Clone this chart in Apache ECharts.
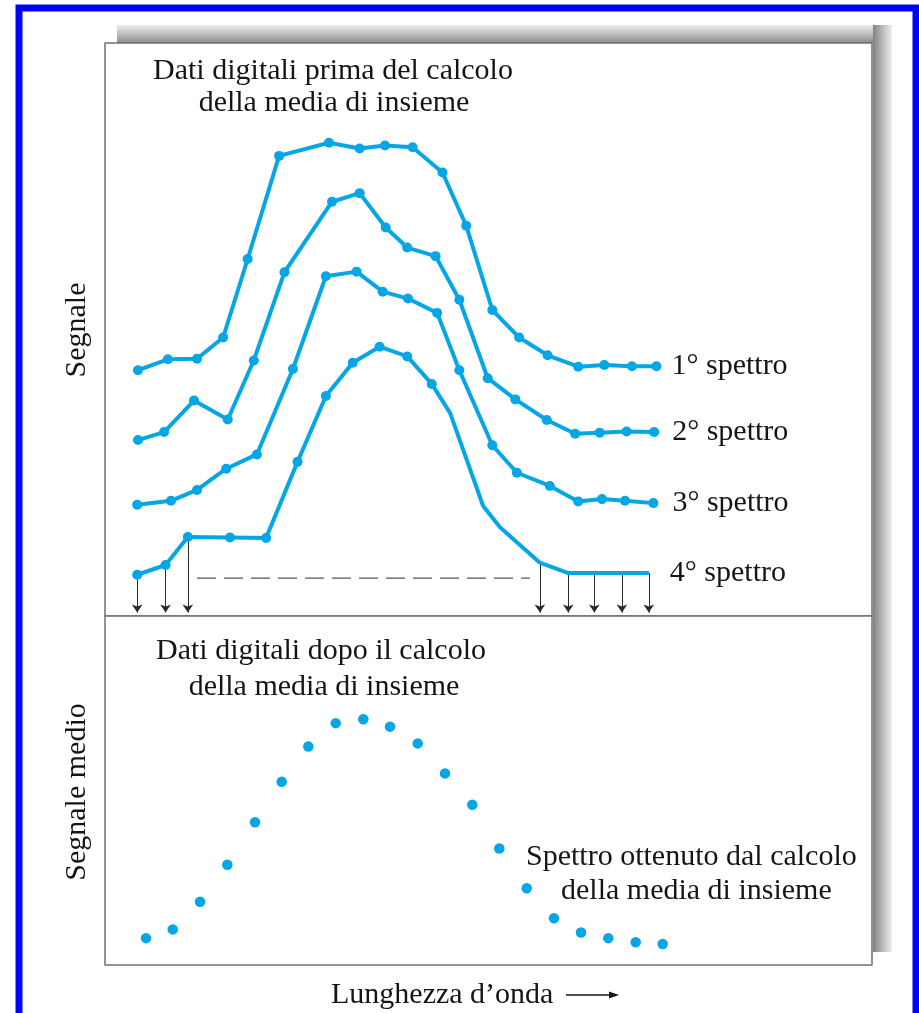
<!DOCTYPE html>
<html>
<head>
<meta charset="utf-8">
<script src="https://cdn.jsdelivr.net/npm/echarts@6/dist/echarts.min.js"></script>
<style>
html,body{margin:0;padding:0;background:#fff;}
#chart{width:919px;height:1013px;}
</style>
</head>
<body>
<div id="chart"></div>
<script>
// ---- data (wavelength in arbitrary units 0-100, signal in arbitrary units 0-100) ----
var spectrumNames = ['1\u00b0 spettro', '2\u00b0 spettro', '3\u00b0 spettro', '4\u00b0 spettro'];

var s1X = [4.3, 8.2, 12.0, 15.4, 18.6, 22.7, 29.2, 33.2, 36.5, 40.1, 44.0, 47.1, 50.5, 54.0, 57.7, 61.7, 65.1, 68.7, 71.9];
var s1Y = [42.9, 44.8, 44.9, 48.6, 62.3, 80.3, 82.6, 81.6, 82.1, 81.8, 77.4, 68.1, 53.4, 48.6, 45.5, 43.5, 43.8, 43.6, 43.6];

var s2X = [4.3, 7.7, 11.6, 16.0, 19.4, 23.4, 29.6, 33.2, 36.6, 39.4, 43.1, 46.2, 49.9, 53.5, 57.6, 61.3, 64.5, 68.0, 71.6];
var s2Y = [30.7, 32.1, 37.6, 34.3, 44.6, 60.0, 72.3, 73.8, 67.8, 64.3, 62.8, 55.2, 41.5, 37.8, 34.2, 31.8, 32.0, 32.2, 32.1];

var s3X = [4.2, 8.6, 12.0, 15.8, 19.8, 24.5, 28.8, 32.8, 36.2, 39.5, 43.3, 46.2, 50.5, 53.7, 58.0, 61.7, 64.8, 67.8, 71.5];
var s3Y = [19.4, 20.1, 22.0, 25.7, 28.2, 43.1, 59.3, 60.1, 56.6, 55.4, 52.9, 42.9, 29.8, 25.0, 22.7, 20.0, 20.4, 20.1, 19.7];

var s4X = [4.2, 7.9, 10.8, 16.3, 21.0, 25.1, 28.8, 32.3, 35.8, 39.4, 42.6, 45.0, 49.3, 51.5, 56.7, 60.4, 63.8, 67.4, 70.9];
var s4Y = [7.2, 8.9, 13.8, 13.7, 13.6, 26.9, 38.4, 44.2, 47.0, 45.3, 40.5, 35.4, 19.2, 15.5, 9.3, 7.5, 7.5, 7.5, 7.5];
var s4MarkedCount = 11;

// sampling arrows (indices of spectrum 4 points), arrow tip level
var arrowIdx = [0, 1, 2, 14, 15, 16, 17, 18];
var arrowEndY = 0.6;

// dashed "..." line in spectrum 4
var dashX = [12.0, 55.4];
var dashY = 6.6;

// ensemble average spectrum
var avgX = [5.35, 8.83, 12.39, 15.95, 19.56, 23.04, 26.51, 30.08, 33.68, 37.16, 40.77, 44.33, 47.89, 51.41, 54.98, 58.54, 62.06, 65.62, 69.19, 72.71];
var avgY = [7.7, 10.2, 18.1, 28.7, 40.9, 52.5, 62.6, 69.3, 70.4, 68.3, 63.5, 54.9, 45.9, 33.4, 22.0, 13.4, 9.3, 7.7, 6.5, 6.0];

// ---- chart ----
var BLUE = '#04a6e6';
var FONT = "'Liberation Serif', 'DejaVu Serif', serif";
var TXT = '#151515';
var labelGap = [15, 18, 19, 21];

function pairs(xs, ys) { return xs.map(function (x, i) { return [x, ys[i]]; }); }

var chart = echarts.init(document.getElementById('chart'), null, {renderer: 'canvas'});

function lineSeries(k, xs, ys, markedCount) {
  var name = spectrumNames[k];
  var data = xs.map(function (x, i) {
    var item = {value: [x, ys[i]]};
    if (markedCount !== undefined && i >= markedCount) { item.symbol = 'none'; }
    return item;
  });
  return {
    type: 'line', name: name, xAxisIndex: 0, yAxisIndex: 0,
    data: data, symbol: 'circle', symbolSize: 10, showSymbol: true,
    lineStyle: {color: BLUE, width: 4}, itemStyle: {color: BLUE, opacity: 1},
    z: 5, silent: true,
    endLabel: {show: true, formatter: name, fontFamily: FONT, fontSize: 30, color: TXT, distance: labelGap[k]}
  };
}

var option = {
  animation: false,
  backgroundColor: '#fff',
  grid: [
    {left: 105, top: 43, width: 767, height: 573, show: true, borderColor: '#707070', borderWidth: 1.5, backgroundColor: '#fff'},
    {left: 105, top: 616, width: 767, height: 349, show: true, borderColor: '#707070', borderWidth: 1.5, backgroundColor: '#fff'}
  ],
  xAxis: [
    {type: 'value', gridIndex: 0, min: 0, max: 100, show: false},
    {type: 'value', gridIndex: 1, min: 0, max: 100, show: false}
  ],
  yAxis: [
    {type: 'value', gridIndex: 0, min: 0, max: 100, show: false},
    {type: 'value', gridIndex: 1, min: 0, max: 100, show: false}
  ],
  series: [
    {
      type: 'lines', coordinateSystem: 'cartesian2d', xAxisIndex: 0, yAxisIndex: 0,
      symbol: ['none', 'arrow'], symbolSize: 8, z: 2, silent: true,
      lineStyle: {color: '#2a2a2a', width: 1, opacity: 1},
      data: arrowIdx.map(function (i) { return {coords: [[s4X[i], s4Y[i]], [s4X[i], arrowEndY]]}; })
    },
    {
      type: 'line', xAxisIndex: 0, yAxisIndex: 0, symbol: 'none', z: 2, silent: true,
      lineStyle: {color: '#555', width: 1.3, type: [19, 8]},
      data: [[dashX[0], dashY], [dashX[1], dashY]]
    },
    lineSeries(0, s1X, s1Y),
    lineSeries(1, s2X, s2Y),
    lineSeries(2, s3X, s3Y),
    lineSeries(3, s4X, s4Y, s4MarkedCount),
    {
      type: 'scatter', xAxisIndex: 1, yAxisIndex: 1, symbol: 'circle', symbolSize: 10.5,
      itemStyle: {color: BLUE, opacity: 1}, data: pairs(avgX, avgY), silent: true
    }
  ],
  graphic: [
    // outer blue frame
    {type: 'rect', z: 100, silent: true, shape: {x: 19, y: 8, width: 897, height: 1040},
     style: {fill: 'none', stroke: '#0000ff', lineWidth: 7}},
    // panel drop shadow (top and right)
    {type: 'rect', z: -10, silent: true, shape: {x: 117, y: 25, width: 756, height: 18},
     style: {fill: {type: 'linear', x: 0, y: 0, x2: 0, y2: 1, colorStops: [
       {offset: 0, color: 'rgba(238,238,238,1)'}, {offset: 1, color: 'rgba(140,140,140,1)'}]}}},
    {type: 'rect', z: -10, silent: true, shape: {x: 873, y: 25, width: 19, height: 927},
     style: {fill: {type: 'linear', x: 0, y: 0, x2: 1, y2: 0, colorStops: [
       {offset: 0, color: 'rgba(130,130,130,1)'}, {offset: 1, color: 'rgba(240,240,240,1)'}]}}},
    // titles
    {type: 'text', z: 50, silent: true, style: {text: 'Dati digitali prima del calcolo', x: 333, y: 71, font: '30px ' + FONT, fill: TXT, textAlign: 'center', textVerticalAlign: 'middle'}},
    {type: 'text', z: 50, silent: true, style: {text: 'della media di insieme', x: 334, y: 103, font: '30px ' + FONT, fill: TXT, textAlign: 'center', textVerticalAlign: 'middle'}},
    {type: 'text', z: 50, silent: true, style: {text: 'Dati digitali dopo il calcolo', x: 321, y: 651, font: '30px ' + FONT, fill: TXT, textAlign: 'center', textVerticalAlign: 'middle'}},
    {type: 'text', z: 50, silent: true, style: {text: 'della media di insieme', x: 324, y: 687, font: '30px ' + FONT, fill: TXT, textAlign: 'center', textVerticalAlign: 'middle'}},
    {type: 'text', z: 50, silent: true, style: {text: 'Spettro ottenuto dal calcolo', x: 526, y: 857, font: '30px ' + FONT, fill: TXT, textAlign: 'left', textVerticalAlign: 'middle'}},
    {type: 'text', z: 50, silent: true, style: {text: 'della media di insieme', x: 561, y: 891, font: '30px ' + FONT, fill: TXT, textAlign: 'left', textVerticalAlign: 'middle'}},
    // axis names
    {type: 'text', z: 50, silent: true, x: 77, y: 330, rotation: Math.PI / 2,
     style: {text: 'Segnale', x: 0, y: 0, font: '30px ' + FONT, fill: TXT, textAlign: 'center', textVerticalAlign: 'middle'}},
    {type: 'text', z: 50, silent: true, x: 77, y: 792, rotation: Math.PI / 2,
     style: {text: 'Segnale medio', x: 0, y: 0, font: '30px ' + FONT, fill: TXT, textAlign: 'center', textVerticalAlign: 'middle'}},
    {type: 'text', z: 50, silent: true, style: {text: 'Lunghezza d\u2019onda', x: 331, y: 995, font: '30px ' + FONT, fill: TXT, textAlign: 'left', textVerticalAlign: 'middle'}},
    {type: 'line', z: 50, silent: true, shape: {x1: 566, y1: 995, x2: 612, y2: 995}, style: {stroke: TXT, lineWidth: 1.3}},
    {type: 'polygon', z: 50, silent: true, shape: {points: [[619, 995], [609, 991.5], [609, 998.5]]}, style: {fill: TXT}}
  ]
};
chart.setOption(option);
</script>
</body>
</html>
